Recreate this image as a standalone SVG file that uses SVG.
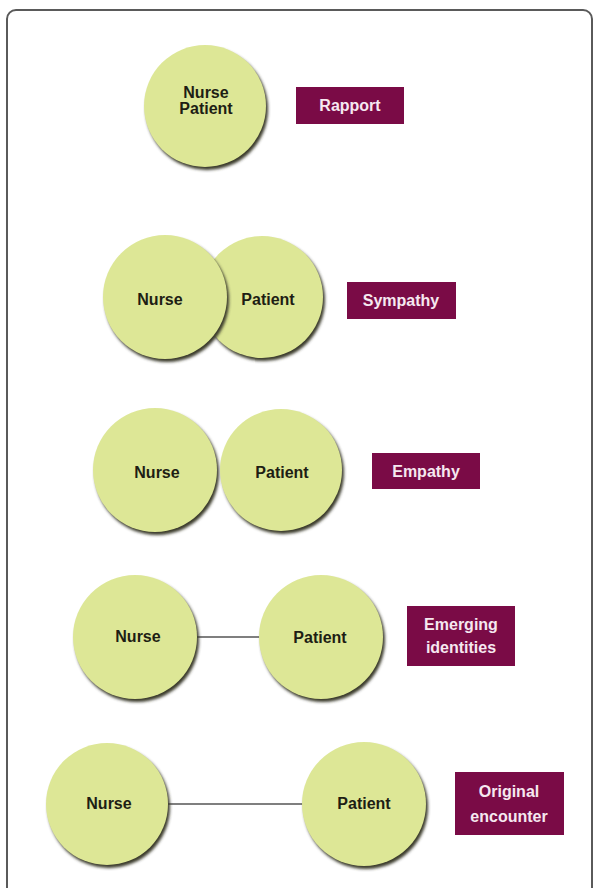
<svg xmlns="http://www.w3.org/2000/svg" width="593" height="888" viewBox="0 0 593 888">
<defs>
<filter id="blur" x="-20%" y="-20%" width="140%" height="140%"><feGaussianBlur stdDeviation="1.6"/></filter>
<style>
.sh{fill:#3a3a2c;filter:url(#blur)}
.c{fill:#dde796}
.t{font-family:"Liberation Sans",Arial,sans-serif;font-weight:bold;font-size:16px;fill:#1e1e14;text-anchor:middle}
.b{fill:#7a0b46}
.bt{font-family:"Liberation Sans",Arial,sans-serif;font-weight:bold;font-size:16px;fill:#f6e8f0;text-anchor:middle}
.ln{stroke:#555;stroke-width:1.6;fill:none}
</style>
</defs>
<rect x="0" y="0" width="593" height="888" fill="#fff"/>
<rect x="7" y="10" width="585" height="900" rx="9" fill="none" stroke="#5a5a5a" stroke-width="2"/>

<g id="connectors">
<line class="ln" x1="197" y1="637" x2="260" y2="637"/>
<line class="ln" x1="168" y1="804" x2="303" y2="804"/>
</g>

<g id="rapport-circle">
<circle class="sh" cx="207" cy="109" r="61"/>
<circle class="c" cx="205" cy="106" r="61"/>
<text class="t" x="206" y="98">Nurse</text>
<text class="t" x="206" y="114">Patient</text>
</g>
<g id="rapport-label">
<rect class="b" x="296" y="87" width="108" height="37"/>
<text class="bt" x="350" y="111">Rapport</text>
</g>

<g id="sympathy-patient">
<circle class="sh" cx="264" cy="300" r="61"/>
<circle class="c" cx="262" cy="297" r="61"/>
<text class="t" x="268" y="305">Patient</text>
</g>
<g id="sympathy-nurse">
<circle class="sh" cx="167" cy="300" r="62"/>
<circle class="c" cx="165" cy="297" r="62"/>
<text class="t" x="160" y="305">Nurse</text>
</g>
<g id="sympathy-label">
<rect class="b" x="347" y="282" width="109" height="37"/>
<text class="bt" x="401" y="306">Sympathy</text>
</g>

<g id="empathy-nurse">
<circle class="sh" cx="157" cy="473" r="62"/>
<circle class="c" cx="155" cy="470" r="62"/>
<text class="t" x="157" y="478">Nurse</text>
</g>
<g id="empathy-patient">
<circle class="sh" cx="283" cy="473" r="61"/>
<circle class="c" cx="281" cy="470" r="61"/>
<text class="t" x="282" y="478">Patient</text>
</g>
<g id="empathy-label">
<rect class="b" x="372" y="453" width="108" height="36"/>
<text class="bt" x="426" y="477">Empathy</text>
</g>

<g id="emerging-nurse">
<circle class="sh" cx="137" cy="640" r="62"/>
<circle class="c" cx="135" cy="637" r="62"/>
<text class="t" x="138" y="642">Nurse</text>
</g>
<g id="emerging-patient">
<circle class="sh" cx="323" cy="640" r="62"/>
<circle class="c" cx="321" cy="637" r="62"/>
<text class="t" x="320" y="643">Patient</text>
</g>
<g id="emerging-label">
<rect class="b" x="407" y="606" width="108" height="60"/>
<text class="bt" x="461" y="630">Emerging</text>
<text class="bt" x="461" y="653">identities</text>
</g>

<g id="original-nurse">
<circle class="sh" cx="109" cy="807" r="61"/>
<circle class="c" cx="107" cy="804" r="61"/>
<text class="t" x="109" y="809">Nurse</text>
</g>
<g id="original-patient">
<circle class="sh" cx="366" cy="807" r="62"/>
<circle class="c" cx="364" cy="804" r="62"/>
<text class="t" x="364" y="809">Patient</text>
</g>
<g id="original-label">
<rect class="b" x="455" y="772" width="109" height="63"/>
<text class="bt" x="509" y="797">Original</text>
<text class="bt" x="509" y="822">encounter</text>
</g>
</svg>
